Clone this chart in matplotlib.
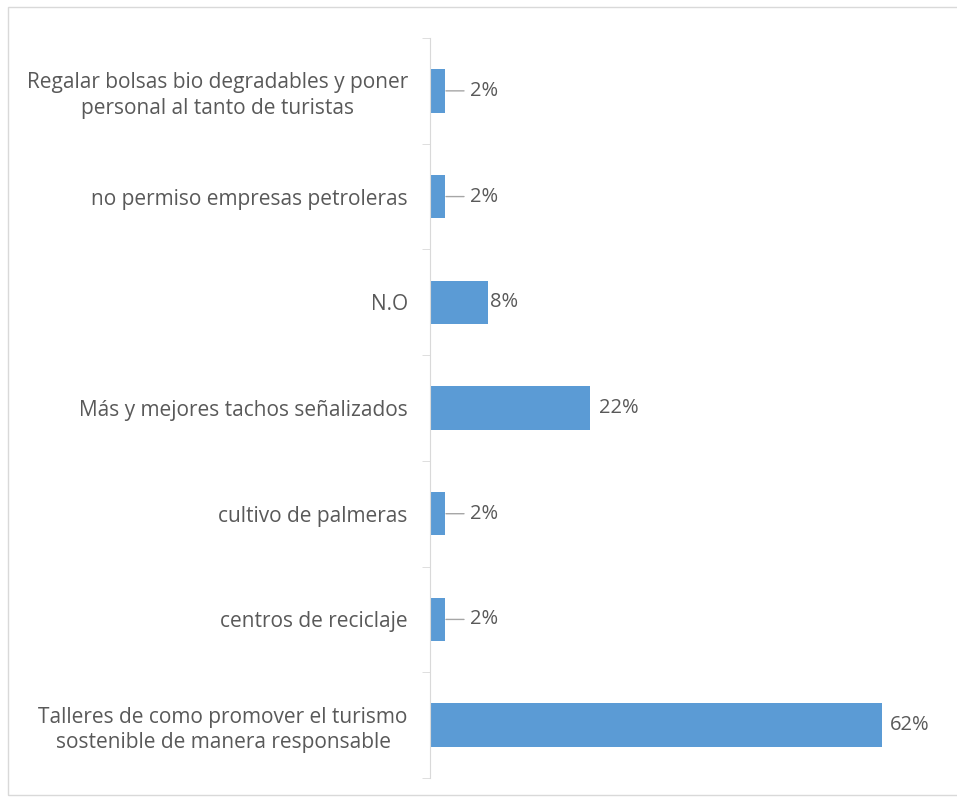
import matplotlib.pyplot as plt
from matplotlib.patches import Rectangle

# Data (top to bottom as shown)
categories = [
    "Regalar bolsas bio degradables y poner\npersonal al tanto de turistas",
    "no permiso empresas petroleras",
    "N.O",
    "Más y mejores tachos señalizados",
    "cultivo de palmeras",
    "centros de reciclaje",
    "Talleres de como promover el turismo\nsostenible de manera responsable",
]
values = [0.02, 0.02, 0.08, 0.22, 0.02, 0.02, 0.62]
labels = ["2%", "2%", "8%", "22%", "2%", "2%", "62%"]

text_color = "#595959"
bar_color = "#5b9bd5"
plt.rcParams['font.family'] = ['Open Sans', 'DejaVu Sans']

fig = plt.figure(figsize=(9.57, 8), dpi=100)
ax = fig.add_axes([430 / 957, 22 / 800, 510 / 957, 740 / 800])

# light frame around the chart area
fig.patches.append(Rectangle((8 / 957, 5 / 800), 955 / 957, 788 / 800,
                             transform=fig.transFigure, fill=False,
                             edgecolor="#d9d9d9", linewidth=1))

pos = list(range(len(categories)))
ax.barh(pos, values, height=0.41, color=bar_color)
ax.set_xlim(0, 0.70)
ax.set_ylim(len(categories) - 0.5, -0.5)

for i, (v, lab) in enumerate(zip(values, labels)):
    if v < 0.05:
        ax.annotate(lab, xy=(v, i), xytext=(18, 0), textcoords="offset points",
                    ha="left", va="center", fontsize=14.5, color=text_color,
                    arrowprops=dict(arrowstyle="-", color="#a6a6a6", lw=1,
                                    shrinkA=2, shrinkB=1))
    else:
        ax.annotate(lab, xy=(v, i), xytext=(1 if v < 0.1 else 6, 0),
                    textcoords="offset points", ha="left", va="center",
                    fontsize=14.5, color=text_color)

ax.set_yticks(pos)
ax.set_yticklabels(categories, fontsize=15, color=text_color,
                   multialignment="center", linespacing=1.3)
ax.tick_params(axis="y", which="major", length=0, pad=16)
ax.set_yticks([p - 0.5 for p in pos] + [len(pos) - 0.5], minor=True)
ax.tick_params(axis="y", which="minor", length=6, color="#d9d9d9")
ax.set_xticks([])

for s in ["top", "right", "bottom"]:
    ax.spines[s].set_visible(False)
ax.spines["left"].set_color("#d9d9d9")

fig.savefig("out.png", dpi=100)
